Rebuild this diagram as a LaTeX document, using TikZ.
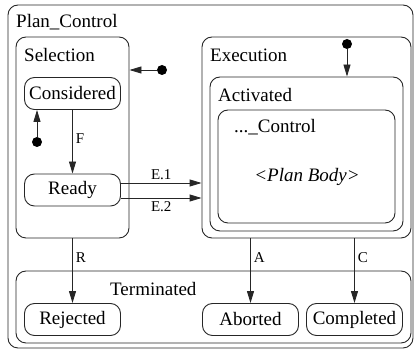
\documentclass[tikz,border=0pt]{standalone}
\usepackage{fontspec}
\setmainfont{Liberation Serif}
\usetikzlibrary{arrows.meta}

\begin{document}
\begin{tikzpicture}[
    x=1pt, y=-1pt,
    font=\fontsize{19}{22}\selectfont,
    region/.style={rectangle, rounded corners=10pt, draw=black!85, line width=0.9pt, inner sep=0pt},
    state/.style={rectangle, rounded corners=10pt, draw=black!85, line width=0.9pt, minimum width=96pt, minimum height=32pt, inner sep=0pt},
    title/.style={anchor=base west, inner sep=0pt},
    initial/.style={circle, fill=black, inner sep=0pt, minimum size=10pt},
    arrow/.style={line width=0.9pt, draw=black!85, -{Triangle[length=12pt,width=7pt]}},
    trans/.style={font=\fontsize{15}{17}\selectfont, inner sep=3pt}
]
\useasboundingbox (0,0) rectangle (416,352);

% --- Regions ---
\node (plan) at (210.5,176.5) [region, minimum width=405pt, minimum height=343pt] {};
\node (plan_t) at (16,28) [title] {Plan\_Control};

% Selection (left)
\node (sel) at (72.5,137.5) [region, minimum width=113pt, minimum height=201pt] {};
\node (sel_t) at (24,62) [title] {Selection};

% Execution (right)
\node (exe) at (306.5,137.5) [region, minimum width=209pt, minimum height=201pt] {};
\node (exe_t) at (210,62) [title] {Execution};
\node (act) at (306.5,154) [region, minimum width=193pt, minimum height=154pt] {};
\node (act_t) at (218,102) [title] {Activated};
\node (ctrl) at (306.5,166.5) [region, minimum width=177pt, minimum height=113pt] {};
\node (ctrl_t) at (234,133) [title] {...\_Control};
\node (body) at (307,177) {\textit{<Plan Body>}};

% Terminated (bottom)
\node (term) at (213.5,307) [region, minimum width=395pt, minimum height=72pt] {};
\node (term_t) at (110,296) [title] {Terminated};

% --- States ---
\node (cons) at (72.5,93.5) [state] {Considered};
\node (ready) at (72.5,190) [state] {Ready};
\node (rej) at (72.5,319.5) [state] {Rejected};
\node (abo) at (250.5,319.5) [state] {Aborted};
\node (comp) at (354.5,319.5) [state] {Completed};

% Initial states
\node (sel_init) at (162,70) [initial] {};
\node (con_init) at (37,142) [initial] {};
\node (exe_init) at (347,44) [initial] {};

% --- Edges ---
\draw [arrow] (sel_init) -- (sel_init -| sel.east);
\draw [arrow] (con_init) -- (con_init |- cons.south);
\draw [arrow] (exe_init) -- (exe_init |- act.north);

\draw [arrow] (cons.south) -- node[trans, right, pos=0.45] {F} (ready.north);
\draw [arrow] ([yshift=7pt]ready.east) -- node[trans, above] {E.1} ([yshift=7pt]ready.east -| exe.west);
\draw [arrow] ([yshift=-8pt]ready.east) -- node[trans, below] {E.2} ([yshift=-8pt]ready.east -| exe.west);

% Termination
\draw [arrow] (sel.south) -- node[trans, right, pos=0.3] {R} (rej.north);
\draw [arrow] (exe.south -| abo.north) -- node[trans, right, pos=0.3] {A} (abo.north);
\draw [arrow] (exe.south -| comp.north) -- node[trans, right, pos=0.3] {C} (comp.north);

\end{tikzpicture}
\end{document}
